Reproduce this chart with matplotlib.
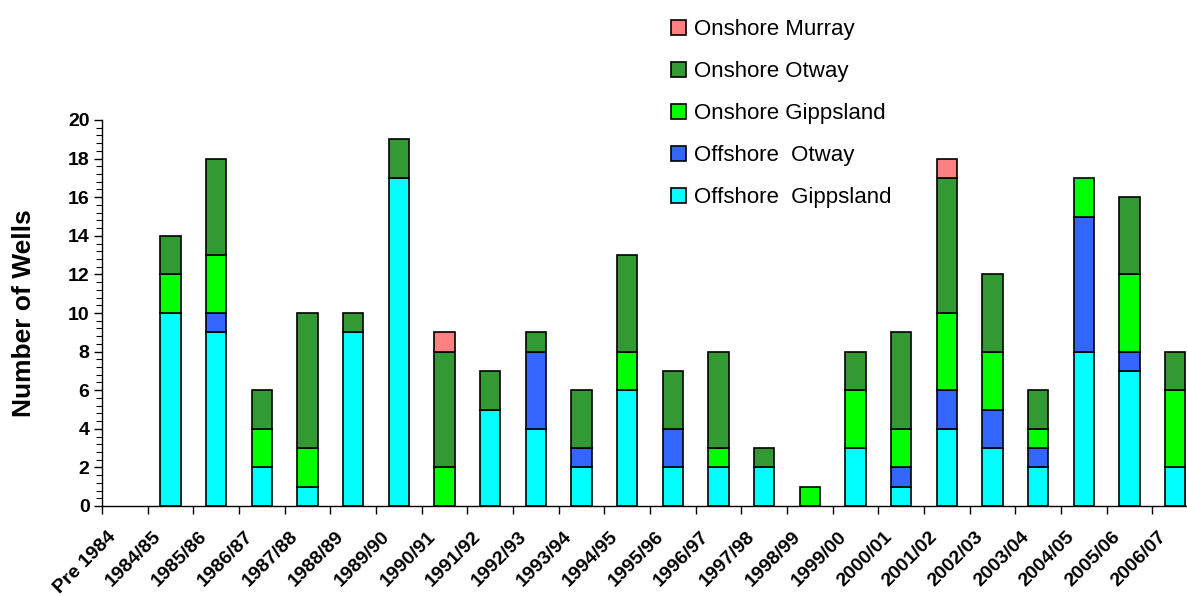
import matplotlib.pyplot as plt
from matplotlib.patches import Patch
from matplotlib.ticker import MultipleLocator, FixedLocator
import numpy as np

plt.rcParams['font.family'] = ['Liberation Sans', 'DejaVu Sans']

years = ['Pre 1984', '1984/85', '1985/86', '1986/87', '1987/88', '1988/89',
         '1989/90', '1990/91', '1991/92', '1992/93', '1993/94', '1994/95',
         '1995/96', '1996/97', '1997/98', '1998/99', '1999/00', '2000/01',
         '2001/02', '2002/03', '2003/04', '2004/05', '2005/06', '2006/07']

offshore_gippsland = [0, 10, 9, 2, 1, 9, 17, 0, 5, 4, 2, 6, 2, 2, 2, 0, 3, 1, 4, 3, 2, 8, 7, 2]
offshore_otway     = [0, 0, 1, 0, 0, 0, 0, 0, 0, 4, 1, 0, 2, 0, 0, 0, 0, 1, 2, 2, 1, 7, 1, 0]
onshore_gippsland  = [0, 2, 3, 2, 2, 0, 0, 2, 0, 0, 0, 2, 0, 1, 0, 1, 3, 2, 4, 3, 1, 2, 4, 4]
onshore_otway      = [0, 2, 5, 2, 7, 1, 2, 6, 2, 1, 3, 5, 3, 5, 1, 0, 2, 5, 7, 4, 2, 0, 4, 2]
onshore_murray     = [0, 0, 0, 0, 0, 0, 0, 1, 0, 0, 0, 0, 0, 0, 0, 0, 0, 0, 1, 0, 0, 0, 0, 0]

series = [
    ('Offshore  Gippsland', offshore_gippsland, '#00FFFF'),
    ('Offshore  Otway', offshore_otway, '#3366FF'),
    ('Onshore Gippsland', onshore_gippsland, '#00FF00'),
    ('Onshore Otway', onshore_otway, '#339933'),
    ('Onshore Murray', onshore_murray, '#FF8080'),
]

fig = plt.figure(figsize=(11.87, 5.96), dpi=100)
# plot area runs past the right edge of the picture, as in the original
ax = fig.add_axes([102 / 1187, 1 - 506 / 596, 1096 / 1187, 386 / 596])

x = np.arange(len(years))
bottom = np.zeros(len(years))
for name, vals, color in series:
    vals = np.array(vals, dtype=float)
    lw = [1.2 if v > 0 else 0 for v in vals]
    ax.bar(x, vals, width=0.44, bottom=bottom, color=color,
           edgecolor='black', linewidth=lw)
    bottom += vals

ax.set_xlim(-0.5, len(years) - 0.5)
ax.set_ylim(0, 20)

ax.spines['top'].set_visible(False)
ax.spines['right'].set_visible(False)
ax.spines['left'].set_linewidth(1.0)
ax.spines['bottom'].set_linewidth(1.0)

ax.yaxis.set_major_locator(MultipleLocator(2))
ax.yaxis.set_minor_locator(MultipleLocator(0.4))
ax.tick_params(axis='y', which='major', length=6, width=1, labelsize=14, pad=3)
ax.tick_params(axis='y', which='minor', length=4, width=0.8)
for lab in ax.get_yticklabels():
    lab.set_fontweight('bold')

# labels sit a little left of the bar centres
ax.set_xticks(x - 0.39)
ax.set_xticklabels(years, rotation=45, ha='right', va='top',
                   rotation_mode='anchor', fontsize=14, fontweight='bold')
ax.xaxis.set_minor_locator(FixedLocator(np.arange(len(years) + 1) - 0.5))
ax.tick_params(axis='x', which='major', length=0, pad=16)
ax.tick_params(axis='x', which='minor', length=6, width=1)

ax.set_ylabel('Number of Wells', fontsize=19, fontweight='bold')
ax.yaxis.set_label_coords(-66 / 1096, 0.5)

handles = [Patch(facecolor=c, edgecolor='black', linewidth=1.2) for _, _, c in series]
labels = [s[0] for s in series]
fig.legend(handles[::-1], labels[::-1],
           loc='upper left', bbox_to_anchor=(651 / 1187, 1 + 1 / 596),
           frameon=False, fontsize=16, labelspacing=0.95,
           handlelength=0.68, handleheight=0.68, handletextpad=0.36)

fig.savefig('out.png', dpi=100)
